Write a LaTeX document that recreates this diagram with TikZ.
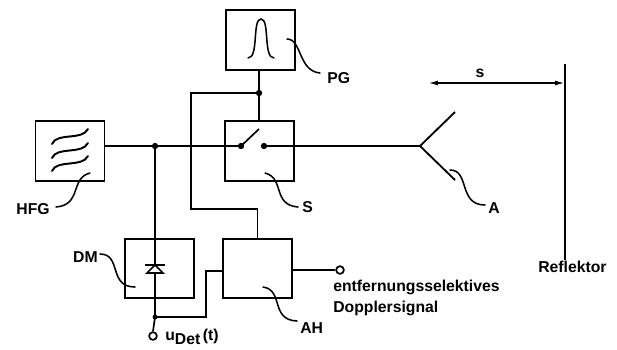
\documentclass[tikz,border=0pt]{standalone}
\usepackage{fontspec}
\setmainfont{Liberation Sans}
\usetikzlibrary{arrows.meta,positioning,calc}
\tikzset{
  blockbox/.style={draw,line width=1.3pt,minimum width=49pt,minimum height=42.5pt,inner sep=0pt},
  lbl/.style={inner sep=0pt,font=\bfseries\fontsize{11.2}{13}\selectfont},
  wire/.style={line width=1.2pt},
  mainwire/.style={line width=1.8pt},
  leader/.style={line width=1.1pt,line cap=round},
  dotjoin/.style={circle,fill=black,inner sep=0pt,minimum size=4.5pt},
  terminal/.style={circle,draw,fill=white,line width=1.2pt,inner sep=0pt,minimum size=5.5pt}
}
\begin{document}
\begin{tikzpicture}[x=0.025cm,y=-0.025cm]
  \useasboundingbox (0,0) rectangle (617,349);
  % blocks
  \node[blockbox] (pg) at (260.5,40) {};
  \node[blockbox] (hfg) at (70,151) {};
  \node[blockbox] (sw) at (259.5,151) {};
  \node[blockbox] (dm) at (159.5,268.5) {};
  \node[blockbox] (ah) at (257.5,268.5) {};
  % junctions and contacts
  \node[dotjoin] (tap) at (155,146) {};
  \node[dotjoin] (pgtap) at (259,93) {};
  \node[dotjoin] (swa) at (241,146) {};
  \node[dotjoin] (swb) at (264,146) {};
  \node[dotjoin,minimum size=3.5pt] (dettap) at (155,317) {};
  \node[terminal] (detout) at (153,336) {};
  \node[terminal] (ahout) at (340,270) {};
  \coordinate (armend) at (259,129);
  \coordinate (ant) at (420,146);
  \coordinate (antup) at (455,112);
  \coordinate (antdown) at (455,180);
  \coordinate (reftop) at (565,64);
  \coordinate (refbot) at (565,260);
  \coordinate (sleft) at (428,83);
  \coordinate (sright) at (565,83);
  % labels
  \node[lbl,anchor=west] (pglabel) at (327,78) {PG};
  \node[lbl,anchor=east] (hfglabel) at (50,209) {HFG};
  \node[lbl,anchor=west] (slabel) at (302,207) {S};
  \node[lbl,anchor=east] (dmlabel) at (98,257) {DM};
  \node[lbl,anchor=west] (alabel) at (488,208) {A};
  \node[lbl,anchor=west] (ahlabel) at (300,328) {AH};
  \node[lbl,anchor=west] (reflabel) at (538,267) {Reflektor};
  \node[lbl] (slen) at (480,73) {s};
  \node[lbl,anchor=west] (ent) at (333,287) {entfernungsselektives};
  \node[lbl,anchor=west] (dop) at (333,308) {Dopplersignal};
  \node[lbl,anchor=west] (udet) at (165,337) {u\raisebox{-0.55ex}{Det}\,(t)};
  % wiring
  \draw[mainwire] (hfg.east |- tap) -- (swa.center);
  \draw[mainwire] (swb.center) -- (ant);
  \draw[wire] (swa.center) -- (armend);
  \draw[wire] (pg.south -| pgtap) -- (sw.north -| pgtap);
  \draw[wire] (pgtap.center) -| (191,209) -| (ah.north);
  \draw[wire] (tap.center) -- (dettap.center);
  \draw[wire] (dettap.center) -- (detout.north);
  \draw[wire] (dettap.center) -| (206,271) -- (ah.west |- 0,271);
  \draw[wire] (ah.east |- ahout) -- (ahout.west);
  \draw[line width=1.3pt] (antup) -- (ant) -- (antdown);
  \draw[line width=1.3pt] (reftop) -- (refbot);
  \draw[wire,{Latex[length=7pt,width=3.5pt]}-{Latex[length=7pt,width=3.5pt]}] (sleft) -- (sright);
  % symbols
  \draw[leader] (248,58) .. controls (259,58) and (252,19) .. (261,19) .. controls (270,19) and (263,58) .. (274,58);
  \foreach \y in {144,158,171}
    \draw[leader,line width=1.4pt] (52,\y) .. controls (57,\y-12) and (82,\y-3) .. (88,\y-15);
  \draw[wire,fill=white] (155,265) -- (147,273) -- (163,273) -- cycle;
  \draw[line width=1.4pt] (145,265) -- (165,265);
  % leaders
  \draw[leader] (287,39) .. controls (302,39) and (298,71) .. (320,73);
  \draw[leader] (90,173) .. controls (70,178) and (82,205) .. (56,207);
  \draw[leader] (100,254) .. controls (122,254) and (108,287) .. (135,287);
  \draw[leader] (265,173) .. controls (285,178) and (272,205) .. (298,207);
  \draw[leader] (450,170) .. controls (470,170) and (458,205) .. (485,205);
  \draw[leader] (263,287) .. controls (284,290) and (270,320) .. (297,321);
\end{tikzpicture}
\end{document}
